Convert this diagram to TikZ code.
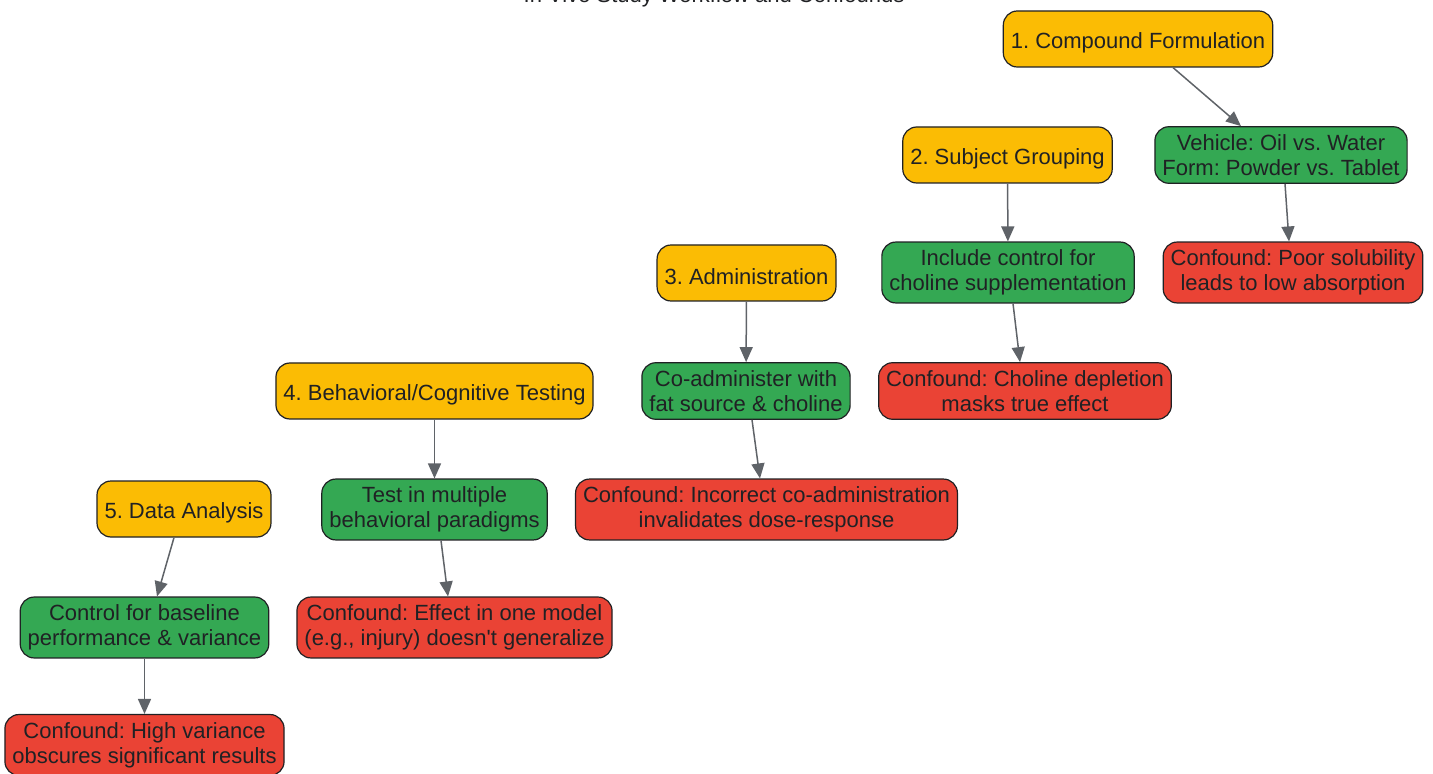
\documentclass[tikz,border=0pt]{standalone}
\usepackage{fontspec}
\setmainfont{Liberation Sans}
\usepackage{xcolor}
\usetikzlibrary{arrows.meta}
\frenchspacing
\definecolor{stepyellow}{HTML}{FBBC04}
\definecolor{okgreen}{HTML}{34A853}
\definecolor{badred}{HTML}{EA4335}
\definecolor{edgegray}{HTML}{5F6368}
\definecolor{inkdark}{HTML}{202124}
\tikzset{
>={Triangle[length=7.5pt,width=6.5pt]},
box/.style={%
    rectangle,
    rounded corners=7pt,
    draw=inkdark,
    line width=0.6pt,
    text=inkdark,
    align=center,
    minimum height=28pt,
    inner xsep=3.75pt,
    inner ysep=3.85pt,
    execute at begin node={\rule{0pt}{11.5pt}},
    % Font
    font=\fontsize{11}{12.5}\selectfont
},
stage/.style={box, fill=stepyellow},
fix/.style={box, fill=okgreen},
confound/.style={box, fill=badred},
flow/.style={->, draw=edgegray, line width=0.75pt},
}

\begin{document}
\begin{tikzpicture}[x=0.5pt, y=-0.5pt]
    \useasboundingbox (0,0) rectangle (1433,774);

    \node[anchor=base, text=inkdark, font=\fontsize{11}{12.5}\selectfont] at (714,2.5) (title) {In Vivo Study Workflow and Confounds};

    % stage 1
    \node[stage] at (1138,39) (form) {1. Compound Formulation};
    \node[fix] at (1281,155) (vehicle) {Vehicle: Oil vs. Water\\Form: Powder vs. Tablet};
    \node[confound] at (1293,272.5) (solub) {Confound: Poor solubility\\leads to low absorption};

    % stage 2
    \node[stage] at (1007.5,155) (group) {2. Subject Grouping};
    \node[fix] at (1008,272.5) (cholctl) {Include control for\\choline supplementation};
    \node[confound] at (1025,391) (choldep) {Confound: Choline depletion\\masks true effect};

    % stage 3
    \node[stage] at (746.5,273) (admin) {3. Administration};
    \node[fix] at (746,391) (coadmin) {Co-administer with\\fat source \& choline};
    \node[confound] at (766.5,509.5) (dose) {Confound: Incorrect co-administration\\invalidates dose-response};

    % stage 4
    \node[stage] at (434.5,391) (behav) {4. Behavioral/Cognitive Testing};
    \node[fix] at (434.5,509.5) (multi) {Test in multiple\\behavioral paradigms};
    \node[confound] at (454.5,627.5) (general) {Confound: Effect in one model\\(e.g., injury) doesn\textquotesingle t generalize};

    % stage 5
    \node[stage] at (184,509) (analysis) {5. Data Analysis};
    \node[fix] at (144.5,627.5) (baseline) {Control for baseline\\performance \& variance};
    \node[confound] at (144.5,745) (variance) {Confound: High variance\\obscures significant results};

    \draw[flow] ([xshift=17.5pt]form.south) -- ([xshift=-20pt]vehicle.north);
    \draw[flow] ([xshift=2pt]vehicle.south) -- ([xshift=-2pt]solub.north);
    \draw[flow] (group) -- (cholctl);
    \draw[flow] ([xshift=2.5pt]cholctl.south) -- ([xshift=-2.5pt]choldep.north);
    \draw[flow] (admin) -- (coadmin);
    \draw[flow] ([xshift=3pt]coadmin.south) -- ([xshift=-3.25pt]dose.north);
    \draw[flow] (behav) -- (multi);
    \draw[flow] ([xshift=3.25pt]multi.south) -- ([xshift=-3.25pt]general.north);
    \draw[flow] ([xshift=-5pt]analysis.south) -- ([xshift=6.25pt]baseline.north);
    \draw[flow] (baseline) -- (variance);
\end{tikzpicture}
\end{document}
